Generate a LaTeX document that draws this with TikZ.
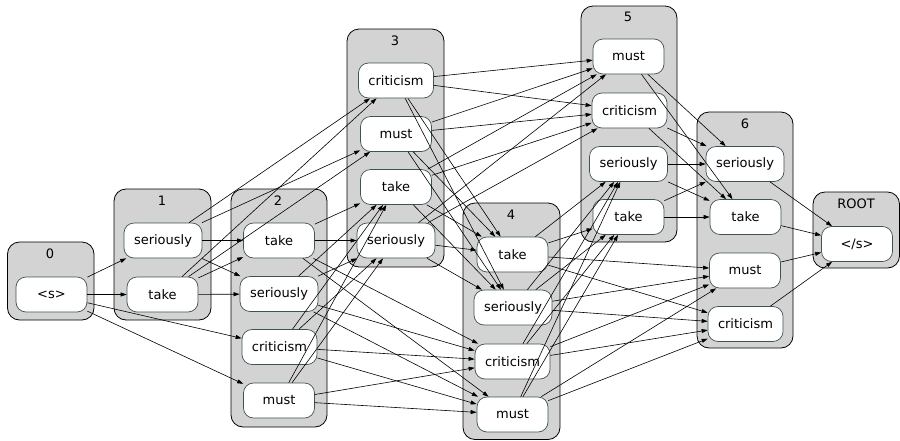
\documentclass[tikz,border=0pt]{standalone}
\usepackage{fontspec}
\setmainfont{DejaVu Sans}
\usetikzlibrary{arrows.meta}
\definecolor{nodeline}{RGB}{62,82,88}
\definecolor{clusterfill}{RGB}{211,211,211}
\begin{document}
\begin{tikzpicture}[x=1pt,y=-1pt,
  word/.style={draw=nodeline, fill=white, rounded corners=10pt,
    minimum width=71pt, minimum height=35pt, inner xsep=10pt,
    font=\fontsize{13}{15}\selectfont, line width=0.7pt},
  cluster/.style={draw=black, fill=clusterfill, rounded corners=12pt, line width=0.8pt},
  ctitle/.style={font=\fontsize{13}{15}\selectfont, inner sep=0pt},
  link/.style={-{Triangle[length=6pt,width=4pt]}, line width=0.6pt},
]
\useasboundingbox (0,0) rectangle (900,440);

% stage boxes
\draw[cluster] (7.5,242) rectangle (94,320);
\draw[cluster] (114,189) rectangle (211,320);
\draw[cluster] (231,189) rectangle (327,427);
\draw[cluster] (347,29) rectangle (444,267);
\draw[cluster] (463,203) rectangle (560,439.5);
\draw[cluster] (581,6) rectangle (677,242);
\draw[cluster] (697,112) rectangle (793,348);
\draw[cluster] (813,192) rectangle (899.5,268);

% stage titles
\node[ctitle] (t0) at (50,254) {0};
\node[ctitle] (t1) at (162,201) {1};
\node[ctitle] (t2) at (278,201) {2};
\node[ctitle] (t3) at (395,41) {3};
\node[ctitle] (t4) at (511,215) {4};
\node[ctitle] (t5) at (628,17) {5};
\node[ctitle] (t6) at (745,124) {6};
\node[ctitle] (tr) at (856,204) {ROOT};

% words
\node[word] (st)  at (51.5,294.5) {<s>};
\node[word] (se1) at (163,240.5) {seriously};
\node[word] (ta1) at (162.5,294.5) {take};
\node[word] (ta2) at (279,240.5) {take};
\node[word] (se2) at (279,294) {seriously};
\node[word] (cr2) at (279.5,347) {criticism};
\node[word] (mu2) at (279,400.5) {must};
\node[word] (cr3) at (396,80.5) {criticism};
\node[word] (mu3) at (396,134) {must};
\node[word] (ta3) at (396,187) {take};
\node[word] (se3) at (396,240.5) {seriously};
\node[word] (ta4) at (512.5,254.5) {take};
\node[word] (se4) at (513,307.5) {seriously};
\node[word] (cr4) at (512.5,361.5) {criticism};
\node[word] (mu4) at (512.5,414.5) {must};
\node[word] (mu5) at (628.5,56.5) {must};
\node[word] (cr5) at (629.5,110.5) {criticism};
\node[word] (se5) at (628.5,164) {seriously};
\node[word] (ta5) at (628.5,217) {take};
\node[word] (se6) at (745,164) {seriously};
\node[word] (ta6) at (745.5,217) {take};
\node[word] (mu6) at (745,270.5) {must};
\node[word] (cr6) at (745.5,324) {criticism};
\node[word] (en)  at (857,244) {</s>};

% transitions
\foreach \a/\b in {st/se1, st/ta1, st/cr2, st/mu2,
  se1/ta2, se1/se2, se1/cr3, se1/mu3,
  ta1/ta2, ta1/se2, ta1/cr3, ta1/mu3,
  ta2/ta3, ta2/se3, ta2/cr4, ta2/mu4,
  se2/ta3, se2/se3, se2/cr4, se2/mu4,
  cr2/ta3, cr2/se3, cr2/cr4, cr2/mu4,
  mu2/ta3, mu2/se3, mu2/cr4, mu2/mu4,
  cr3/ta4, cr3/se4, cr3/mu5, cr3/cr5,
  mu3/ta4, mu3/se4, mu3/mu5, mu3/cr5,
  ta3/ta4, ta3/se4, ta3/mu5, ta3/cr5,
  se3/ta4, se3/se4, se3/mu5, se3/cr5,
  ta4/se5, ta4/ta5, ta4/mu6, ta4/cr6,
  se4/se5, se4/ta5, se4/mu6, se4/cr6,
  cr4/se5, cr4/ta5, cr4/mu6, cr4/cr6,
  mu4/se5, mu4/ta5, mu4/mu6, mu4/cr6,
  mu5/se6, mu5/ta6, cr5/se6, cr5/ta6,
  se5/se6, se5/ta6, ta5/se6, ta5/ta6,
  se6/en, ta6/en, mu6/en, cr6/en}
  \draw[link] (\a) -- (\b);
\end{tikzpicture}
\end{document}
